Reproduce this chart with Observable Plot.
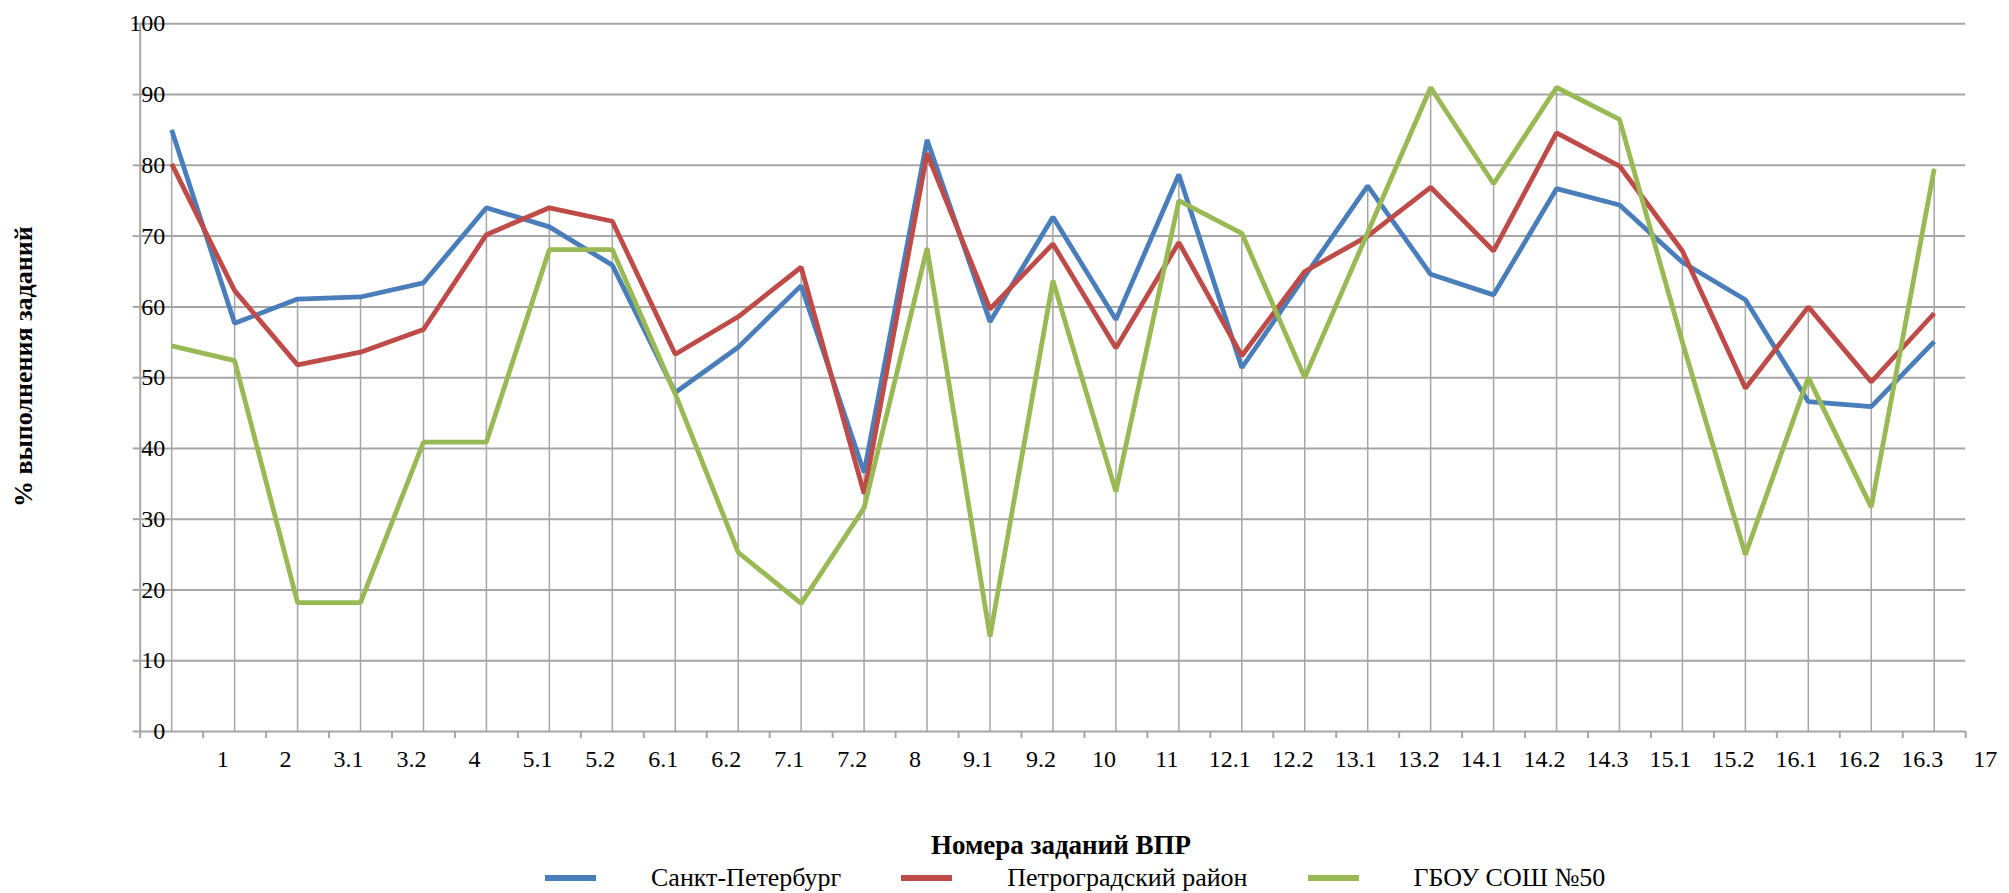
<!DOCTYPE html>
<html><head><meta charset="utf-8">
<script src="https://cdn.jsdelivr.net/npm/d3@7"></script>
<script src="https://cdn.jsdelivr.net/npm/@observablehq/plot@0.6"></script>
<style>
html,body{margin:0;padding:0;background:#fff;}
body{font-family:'Liberation Serif',serif;color:#000;width:2009px;}
svg, svg text, #legend, #legend span{font-family:'Liberation Serif',serif !important;}
#legend{height:31px;display:flex;align-items:center;padding-left:545px;font-size:26px;}
.item{display:flex;align-items:center;}
.sw{width:51px;height:6px;margin-right:55px;}
.item + .item{margin-left:60px;}
</style></head><body>
<div id="chart"></div>
<div id="legend"></div>
<script>
const taskLabels = ["1","2","3.1","3.2","4","5.1","5.2","6.1","6.2","7.1","7.2","8","9.1","9.2","10","11","12.1","12.2","13.1","13.2","14.1","14.2","14.3","15.1","15.2","16.1","16.2","16.3","17"];
const seriesNames = ["Санкт-Петербург","Петроградский район","ГБОУ СОШ №50"];
const spb    = [85.0,57.7,61.1,61.4,63.4,74.0,71.3,65.9,47.9,54.3,63.0,36.6,83.6,57.9,72.7,58.2,78.7,51.4,64.3,77.1,64.6,61.7,76.7,74.4,66.3,61.0,46.6,45.9,55.1];
const petro  = [80.2,62.3,51.8,53.6,56.8,70.2,74.0,72.1,53.3,58.6,65.6,33.6,81.7,59.7,68.9,54.2,69.1,53.1,65.0,70.0,76.9,67.9,84.6,79.9,67.9,48.5,60.0,49.4,59.1];
const school = [54.5,52.4,18.2,18.2,40.9,40.9,68.1,68.1,47.7,25.3,18.1,31.6,68.3,13.4,63.7,33.9,75.0,70.4,50.0,70.5,91.0,77.4,91.0,86.5,55.0,25.0,50.0,31.7,79.5];
const seriesColors = ["#4A7EBB","#BE4B48","#98B954"];
const yTicks = [0,10,20,30,40,50,60,70,80,90,100];
const xTitle = "Номера заданий ВПР";
const yTitle = "% выполнения заданий";

const serifFamily = "'Liberation Serif', serif";
const seriesValues = [spb, petro, school];
const idx = taskLabels.map((_, i) => i);
const bounds = taskLabels.map((_, i) => i - 0.5).concat([taskLabels.length - 0.5]);
const rows = seriesNames.flatMap((s, k) => seriesValues[k].map((v, i) => ({series: s, i, v})));
const drops = idx.map(i => ({i, top: Math.max(spb[i], petro[i], school[i])}));
const grid = "#a6a6a6";

const chart = Plot.plot({
  width: 2009,
  height: 862,
  marginLeft: 139.7,
  marginRight: 43.8,
  marginTop: 23.3,
  marginBottom: 131,
  style: {fontFamily: serifFamily, fontSize: "24px", background: "#fff", color: "#000"},
  x: {type: "linear", domain: [-0.5, taskLabels.length - 0.5], axis: null},
  y: {domain: [0, 100], axis: null},
  color: {domain: seriesNames, range: seriesColors},
  marks: [
    Plot.gridY(yTicks, {stroke: grid, strokeOpacity: 1, strokeWidth: 2}),
    Plot.ruleX(drops, {x: "i", y1: 0, y2: "top", stroke: grid, strokeWidth: 1.5}),
    Plot.ruleX([-0.5], {stroke: grid, strokeWidth: 2}),
    Plot.axisY(yTicks, {tickSize: 7, fill: "none", stroke: grid, strokeWidth: 2, label: null}),
    Plot.axisY(yTicks, {tickSize: 0, tickPadding: 0, dx: 25, fontSize: 24, label: null}),
    Plot.axisX(bounds, {tickSize: 7, fill: "none", stroke: grid, strokeWidth: 2, label: null}),
    Plot.axisX(idx, {tickSize: 0, tickPadding: 18, dx: 51, fontSize: 24, tickFormat: i => taskLabels[i], label: null}),
    Plot.line(rows, {x: "i", y: "v", z: "series", stroke: "series", strokeWidth: 4.8, strokeLinejoin: "miter", strokeLinecap: "butt"}),
    Plot.text([xTitle], {frameAnchor: "bottom", dy: 114, dx: 8, fontWeight: "bold", fontSize: 27, lineAnchor: "middle", textAnchor: "middle"}),
    Plot.text([yTitle], {frameAnchor: "left", rotate: -90, dx: -117, dy: -11, fontWeight: "bold", fontSize: 26, lineAnchor: "middle", textAnchor: "middle"})
  ]
});
document.getElementById("chart").append(chart);

const legend = document.getElementById("legend");
seriesNames.forEach((s, k) => {
  const item = document.createElement("div");
  item.className = "item";
  const sw = document.createElement("span");
  sw.className = "sw";
  sw.style.background = seriesColors[k];
  const t = document.createElement("span");
  t.textContent = s;
  item.append(sw, t);
  legend.append(item);
});
</script>
</body></html>
